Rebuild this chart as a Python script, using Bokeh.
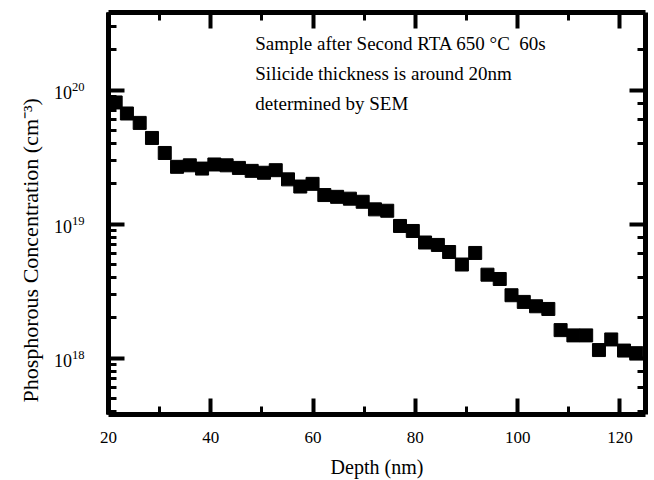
import math
from bokeh.plotting import figure
from bokeh.models import (LinearAxis, LogAxis, SingleIntervalTicker, LogTicker,
                          Label, ColumnDataSource, Range1d, Title)
from bokeh.embed import file_html
from bokeh.resources import INLINE

# ---- data ----
depth_nm = [21.4, 23.6, 26.1, 28.5, 31.0, 33.4, 35.9, 38.3, 40.7, 43.1,
            45.5, 48.0, 50.4, 52.7, 55.1, 57.5, 59.9, 62.2, 64.7, 67.2,
            69.7, 72.1, 74.5, 77.0, 79.5, 81.9, 84.4, 86.6, 89.1, 91.7,
            94.1, 96.5, 98.8, 101.2, 103.6, 106.0, 108.4, 110.9, 113.4, 115.9,
            118.3, 120.8, 123.2]
concentration = [8.1e19, 6.7e19, 5.7e19, 4.4e19, 3.4e19, 2.68e19, 2.75e19, 2.6e19, 2.79e19, 2.75e19,
                 2.63e19, 2.5e19, 2.42e19, 2.53e19, 2.16e19, 1.91e19, 2.0e19, 1.65e19, 1.6e19, 1.55e19,
                 1.47e19, 1.29e19, 1.26e19, 9.7e18, 8.9e18, 7.3e18, 7.0e18, 6.2e18, 5.0e18, 6.1e18,
                 4.2e18, 3.9e18, 2.95e18, 2.63e18, 2.44e18, 2.33e18, 1.62e18, 1.48e18, 1.48e18, 1.15e18,
                 1.38e18, 1.14e18, 1.09e18]
x_range = (20, 125)
y_range = (3.8e17, 3.8e20)
x_label = "Depth (nm)"
y_label = "Phosphorous Concentration (cm\u207b\u00b3)"
notes = ["Sample after Second RTA 650 \u00b0C \u00a060s",
         "Silicide thickness is around 20nm",
         "determined by SEM"]
note_x = 48.7
note_y = [2.24e20, 1.34e20, 8.0e19]

FONT = "Liberation Serif"

p = figure(frame_width=537, frame_height=402, y_axis_type="log",
           x_range=Range1d(*x_range), y_range=Range1d(*y_range),
           output_backend="svg", toolbar_location=None,
           min_border_left=108, min_border_right=9, min_border_top=12, min_border_bottom=66)
p.outline_line_color = None
p.xgrid.visible = False
p.ygrid.visible = False
p.background_fill_color = "white"
p.border_fill_color = "white"

src = ColumnDataSource(dict(x=depth_nm, y=concentration))
p.scatter("x", "y", source=src, marker="square", size=13,
          fill_color="black", line_color="black")

bottom = p.below[0]
left = p.left[0]
bottom.ticker = SingleIntervalTicker(interval=20, num_minor_ticks=2)
top = LinearAxis(ticker=SingleIntervalTicker(interval=20, num_minor_ticks=2))
p.add_layout(top, "above")
right = LogAxis(ticker=LogTicker())
p.add_layout(right, "right")

for ax in [bottom, left, top, right]:
    ax.axis_line_width = 5
    ax.axis_line_color = "black"
    ax.major_tick_in = 16
    ax.major_tick_out = 0
    ax.minor_tick_in = 8
    ax.minor_tick_out = 0
    ax.major_tick_line_width = 4
    ax.minor_tick_line_width = 3
    ax.major_tick_line_color = "black"
    ax.minor_tick_line_color = "black"
    ax.major_label_text_font = FONT
    ax.major_label_text_color = "black"
    ax.axis_label_text_font = FONT
    ax.axis_label_text_font_style = "normal"
    ax.axis_label_text_color = "black"

for ax in [top, right]:
    ax.major_label_text_font_size = "1px"
    ax.major_label_text_alpha = 0
    ax.major_label_standoff = 0

bottom.major_label_text_font_size = "17px"
bottom.major_label_standoff = 17
bottom.axis_label = x_label
bottom.axis_label_text_font_size = "20px"
bottom.axis_label_standoff = 10

left.major_label_text_font_size = "18px"
left.major_label_standoff = 24

ytitle = Title(text=y_label, align="left", offset=12, text_font=FONT,
               text_font_size="22px", text_font_style="normal", text_color="black", standoff=16)
p.add_layout(ytitle, "left")

for t, yy in zip(notes, note_y):
    p.add_layout(Label(x=note_x, y=yy, text=t, text_align="left", text_baseline="middle",
                       text_font=FONT, text_font_size="19px", text_color="black"))

open("out.html", "w").write(file_html(p, INLINE))
